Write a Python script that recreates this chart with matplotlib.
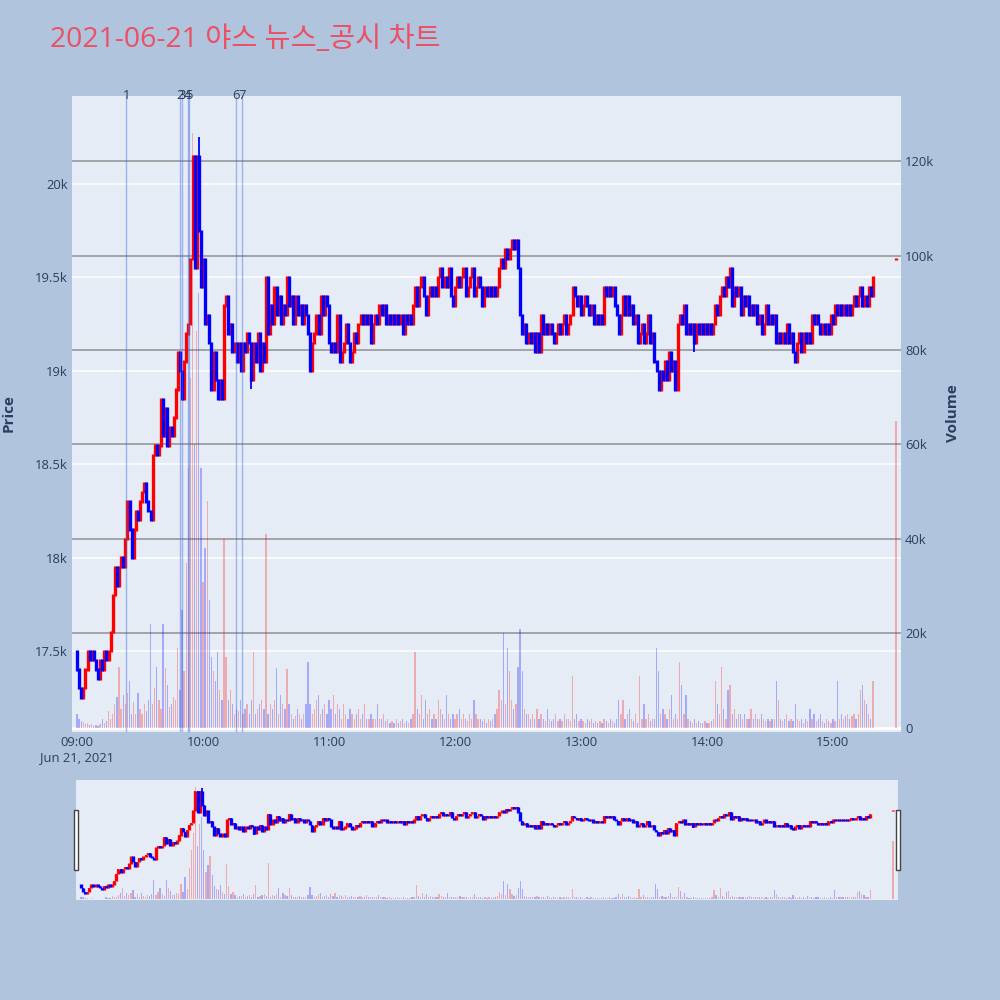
import numpy as np
import pandas as pd
import matplotlib
matplotlib.use('Agg')
import matplotlib.pyplot as plt
import matplotlib.dates as mdates
from matplotlib.patches import Rectangle
from matplotlib.ticker import FixedLocator, FuncFormatter

# ---------------------------------------------------------------------------
# Data: one-minute closes (KRW) from 09:00
# ---------------------------------------------------------------------------
first_open = 17500
close_px = [
    17400, 17300, 17250, 17300, 17400, 17500, 17450, 17500, 17450, 17400,
    17350, 17450, 17400, 17500, 17450, 17500, 17600, 17800, 17950, 17850,
    17950, 18000, 17950, 18100, 18300, 18150, 18000, 18150, 18250, 18200,
    18300, 18350, 18400, 18300, 18250, 18200, 18550, 18600, 18550, 18600,
    18850, 18650, 18800, 18600, 18700, 18650, 18750, 18900, 19100, 19000,
    18850, 19050, 19200, 19250, 19600, 20150, 19550, 20150, 19750, 19450,
    19600, 19250, 19300, 19150, 18900, 19100, 18950, 18850, 18950, 18850,
    19350, 19400, 19200, 19250, 19100, 19150, 19050, 19150, 19000, 19150,
    19100, 19200, 19150, 18950, 19150, 19050, 19200, 19000, 19150, 19050,
    19500, 19200, 19350, 19250, 19450, 19300, 19400, 19250, 19350, 19300,
    19500, 19350, 19400, 19250, 19400, 19300, 19350, 19250, 19350, 19300,
    19200, 19000, 19150, 19200, 19300, 19200, 19400, 19300, 19400, 19350,
    19150, 19100, 19150, 19100, 19300, 19050, 19100, 19150, 19250, 19150,
    19050, 19100, 19200, 19150, 19250, 19300, 19250, 19300, 19250, 19300,
    19150, 19250, 19300, 19250, 19350, 19300, 19350, 19250, 19300, 19250,
    19300, 19250, 19300, 19250, 19300, 19200, 19300, 19250, 19300, 19250,
    19350, 19450, 19350, 19450, 19500, 19400, 19300, 19400, 19450, 19400,
    19450, 19400, 19500, 19550, 19450, 19500, 19450, 19550, 19400, 19350,
    19450, 19500, 19450, 19500, 19550, 19400, 19450, 19500, 19550, 19400,
    19450, 19500, 19450, 19350, 19450, 19400, 19450, 19400, 19450, 19400,
    19450, 19550, 19600, 19550, 19650, 19600, 19650, 19700, 19650, 19700,
    19550, 19300, 19200, 19250, 19150, 19200, 19150, 19200, 19100, 19200,
    19100, 19300, 19200, 19250, 19200, 19250, 19200, 19150, 19200, 19250,
    19200, 19250, 19300, 19200, 19250, 19300, 19450, 19400, 19350, 19400,
    19300, 19350, 19400, 19350, 19300, 19350, 19250, 19300, 19250, 19300,
    19250, 19450, 19400, 19450, 19400, 19450, 19350, 19300, 19200, 19300,
    19400, 19300, 19400, 19300, 19350, 19250, 19300, 19150, 19200, 19250,
    19150, 19200, 19300, 19150, 19200, 19050, 19000, 18900, 19000, 18950,
    19050, 18950, 19100, 19000, 19050, 18900, 19250, 19300, 19250, 19350,
    19200, 19250, 19200, 19250, 19150, 19250, 19200, 19250, 19200, 19250,
    19200, 19250, 19200, 19250, 19350, 19300, 19400, 19450, 19400, 19500,
    19450, 19550, 19350, 19450, 19400, 19450, 19300, 19400, 19350, 19400,
    19300, 19350, 19300, 19350, 19250, 19300, 19200, 19250, 19350, 19250,
    19300, 19250, 19300, 19150, 19200, 19150, 19200, 19150, 19250, 19150,
    19200, 19100, 19050, 19150, 19200, 19100, 19200, 19150, 19200, 19150,
    19300, 19250, 19300, 19250, 19200, 19250, 19200, 19250, 19200, 19300,
    19250, 19350, 19300, 19350, 19300, 19350, 19300, 19350, 19300, 19350,
    19400, 19350, 19400, 19450, 19350, 19400, 19350, 19450, 19400, 19500,
]
# one-minute volume, thousands of shares
volume_k = [
    3, 2, 1.5, 1.2, 0.8, 1, 0.6, 0.8, 0.5, 0.6,
    0.5, 0.8, 2, 1, 1.5, 3.5, 2, 3, 5, 6.5,
    13, 4, 7, 5, 7.5, 10, 3, 5.5, 3, 7.5,
    4, 3, 5, 3.5, 6, 22, 5, 8.5, 13, 6,
    4, 22, 12.7, 9, 4.5, 5, 6.5, 6, 17, 8,
    25, 12, 35, 55, 74, 126, 60, 84, 92, 55,
    31, 38, 48, 27, 15, 12, 10, 16, 8, 6,
    40, 15, 6, 8, 5, 3, 4, 3.5, 6, 3,
    4, 5, 3, 6, 16, 3, 4, 5, 6, 4,
    41, 3, 5, 4, 6, 12.7, 3, 7, 5, 4,
    12.5, 5, 3, 2, 2.5, 4, 3, 2, 3, 5,
    14, 5, 3, 4, 6, 7, 3, 4, 5, 3,
    6, 4, 7, 3, 5, 4, 2, 5, 3, 2,
    4, 3, 2, 3, 4, 2, 3, 5, 2, 2,
    3, 2, 2, 5, 2, 2, 3, 1.5, 2, 1,
    1.5, 1, 2, 1, 1.5, 2, 1, 1.5, 1, 2,
    3, 16, 4, 3, 7, 2, 6, 3, 4, 2,
    3, 2, 6, 4, 3, 2, 7, 3, 2, 3,
    2, 3, 4, 2, 3, 2, 1.5, 3, 2, 6,
    3, 2, 2, 1.5, 2, 1, 2, 1.5, 2, 3,
    4, 8, 6, 20, 5, 17, 12, 6, 4, 5,
    13, 21, 12, 4, 3, 3, 2, 3, 2, 4,
    2, 3, 2, 1.5, 4, 2, 1.5, 2, 3, 1.5,
    2, 1.5, 3, 2, 2, 1.5, 11, 2, 3, 1.5,
    2, 1.5, 1, 2, 1.5, 2, 1, 1.5, 1, 1.5,
    1, 2, 1.5, 1, 2, 1.5, 1, 2, 6, 3,
    6, 2, 3, 4, 2, 1.5, 3, 1, 11, 2,
    5, 2, 3, 1.5, 2, 2, 17, 12, 3, 4,
    3, 2, 4, 7, 2, 3, 2, 14, 9, 3,
    7, 2, 1.5, 1, 2, 1, 1.5, 1, 1, 1.5,
    1, 1, 1.5, 2, 10, 5, 3, 13, 4, 2,
    8, 9, 3, 4, 2, 3, 3, 2, 3, 2,
    2, 4, 2, 3, 2, 2, 3, 2, 1.5, 2,
    1.5, 2, 2, 10, 6, 2, 1.5, 2, 3, 1.5,
    2, 1.5, 5, 2, 1.5, 2, 1, 2, 1.5, 4,
    2, 3, 1.5, 2, 3, 1.5, 1, 2, 1.5, 1,
    2, 1.5, 10, 2, 3, 2, 2.5, 3, 2, 2.5,
    3, 2, 3, 8, 9, 6, 5, 3, 2, 10,
]
# closing auction at 15:30
auction_price = 19600
auction_volume_k = 65
# wicks that stick out of the bodies
wick_high = {58: 20250}
wick_low = {83: 18900, 294: 19100}

news_times = ['09:23:30', '09:49:10', '09:50:00', '09:52:40', '09:53:10', '10:15:40', '10:18:40']
news_labels = ['1', '2', '3', '4', '5', '6', '7']

title = '2021-06-21 야스 뉴스_공시 차트'

# ---------------------------------------------------------------------------
# Build OHLC
# ---------------------------------------------------------------------------
times = pd.date_range('2021-06-21 09:00', periods=len(close_px), freq='min')
times = times.append(pd.DatetimeIndex(['2021-06-21 15:30']))
x = mdates.date2num(times.to_pydatetime())

c = np.array(close_px + [auction_price], dtype=float)
o = np.array([first_open] + close_px[:-1] + [auction_price], dtype=float)
h = np.maximum(o, c)
l = np.minimum(o, c)
for k, v in wick_high.items():
    h[k] = v
for k, v in wick_low.items():
    l[k] = v
vol = np.array(volume_k + [auction_volume_k]) * 1000
up = c >= o

day = pd.Timestamp('2021-06-21')
xmin = mdates.date2num((day + pd.Timedelta('08:57:37')).to_pydatetime())
xmax = mdates.date2num((day + pd.Timedelta('15:32:23')).to_pydatetime())
price_lim = (17066, 20471)
vol_lim = (-850, 133760)

BG = '#B0C4DE'
PLOT_BG = '#E5ECF6'
TXT = '#2a3f5f'
FONT = ['Open Sans', 'Noto Sans CJK KR', 'DejaVu Sans']
plt.rcParams['font.family'] = FONT
TICK_PT = 9.4

fig = plt.figure(figsize=(10, 10), dpi=100, facecolor=BG)


def draw_layers(rect, main=True):
    ax_bg = fig.add_axes(rect)
    ax_bg.set_facecolor(PLOT_BG)
    ax_vol = fig.add_axes(rect, sharex=ax_bg)
    ax_vol.patch.set_visible(False)
    ax_px = fig.add_axes(rect, sharex=ax_bg)
    ax_px.patch.set_visible(False)
    for a in (ax_bg, ax_vol, ax_px):
        for s in a.spines.values():
            s.set_visible(False)
        a.tick_params(length=0)
    ax_bg.set_ylim(*price_lim)
    ax_px.set_ylim(*price_lim)
    ax_vol.set_ylim(*vol_lim)
    ax_bg.set_xlim(xmin, xmax)

    # volume bars
    bw = 0.6 / 1440
    ax_vol.bar(x[up], vol[up], width=bw, color='red', alpha=0.28, linewidth=0)
    ax_vol.bar(x[~up], vol[~up], width=bw, color='blue', alpha=0.28, linewidth=0)

    # candles
    for mask, col in ((up, 'red'), (~up, 'blue')):
        ax_px.vlines(x[mask], l[mask], h[mask], color=col, lw=1.3)
        lo = np.minimum(o[mask], c[mask]) - 6
        hi = np.maximum(o[mask], c[mask]) + 6
        ax_px.vlines(x[mask], lo, hi, color=col, lw=2.4)

    if main:
        for yv in [17500, 18000, 18500, 19000, 19500, 20000]:
            ax_bg.axhline(yv, color='white', lw=1.1, zorder=0)
        for vv in [20000, 40000, 60000, 80000, 100000, 120000]:
            ax_vol.axhline(vv, color='#808080', lw=1.1, alpha=0.85, zorder=0)
        ax_vol.axhline(0, color='white', lw=2, zorder=0)
    return ax_bg, ax_vol, ax_px


# main panel: x 72-901, y 96-732 px
ax_bg, ax_vol, ax_px = draw_layers([0.072, 0.268, 0.829, 0.636])

ax_bg.yaxis.set_major_locator(FixedLocator([17500, 18000, 18500, 19000, 19500, 20000]))
ax_bg.yaxis.set_major_formatter(FuncFormatter(lambda v, p: f'{v/1000:g}k'))
ax_bg.tick_params(axis='y', labelsize=TICK_PT, labelcolor=TXT, pad=3)
ax_px.set_yticks([])
ax_vol.yaxis.tick_right()
ax_vol.yaxis.set_major_locator(FixedLocator([0, 20000, 40000, 60000, 80000, 100000, 120000]))
ax_vol.yaxis.set_major_formatter(FuncFormatter(lambda v, p: '0' if v == 0 else f'{v/1000:g}k'))
ax_vol.tick_params(axis='y', labelsize=TICK_PT, labelcolor=TXT, pad=3)

hours = [mdates.date2num((day + pd.Timedelta(hours=hh)).to_pydatetime()) for hh in range(9, 16)]
hour_labels = ['09:00\nJun 21, 2021'] + [f'{hh}:00' for hh in range(10, 16)]
ax_bg.xaxis.set_major_locator(FixedLocator(hours))
ax_bg.xaxis.set_major_formatter(FuncFormatter(lambda v, p: hour_labels[p] if p is not None and p < len(hour_labels) else ''))
ax_bg.tick_params(axis='x', labelsize=TICK_PT, labelcolor=TXT, pad=3)
for a in (ax_vol, ax_px):
    a.tick_params(axis='x', labelbottom=False)
ax_px.tick_params(axis='y', left=False, labelleft=False)
ax_vol.tick_params(axis='y', left=False, labelleft=False)
for lab in ax_bg.get_xticklabels():
    lab.set_multialignment('center')

# news markers
for t, lab in zip(news_times, news_labels):
    xv = mdates.date2num((day + pd.Timedelta(t)).to_pydatetime())
    ax_px.axvline(xv, color='royalblue', lw=1.0, alpha=0.45)
    ax_px.text(xv, 1.0015, lab, transform=ax_px.get_xaxis_transform(), ha='center', va='center',
               fontsize=TICK_PT, color=TXT, clip_on=False)

fig.text(0.009, 0.587, 'Price', rotation=90, ha='center', va='center', fontsize=11,
         fontweight='bold', color=TXT)
fig.text(0.953, 0.587, 'Volume', rotation=90, ha='center', va='center', fontsize=11,
         fontweight='bold', color=TXT)
fig.text(0.05, 0.96, title, ha='left', va='center', fontsize=20.4, color='#EB5064')

# range slider: x 76-898, y 780-900 px
s_bg, s_vol, s_px = draw_layers([0.076, 0.100, 0.822, 0.120], main=False)
for a in (s_bg, s_vol, s_px):
    a.set_xticks([])
    a.set_yticks([])
for hx in (0.0735, 0.8955):
    fig.add_artist(Rectangle((hx, 0.130), 0.0045, 0.060, transform=fig.transFigure,
                             facecolor='white', edgecolor='#444444', lw=1))

fig.savefig('out.png', dpi=100, facecolor=BG)
